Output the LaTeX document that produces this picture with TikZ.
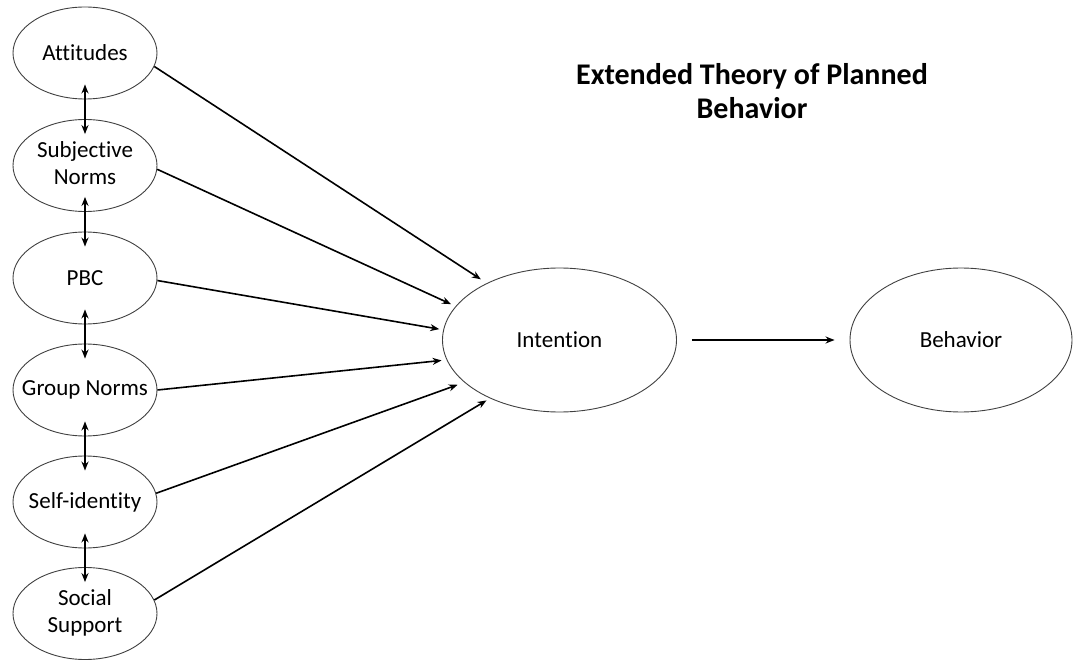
\documentclass[tikz,border=0pt]{standalone}
\usepackage{fontspec}
\setmainfont{Carlito}[Ligatures=NoCommon]
\usetikzlibrary{shapes.geometric,arrows.meta}
\begin{document}
\begin{tikzpicture}[x=1pt,y=-1pt,
  nodefont/.style={font=\fontsize{23}{27}\selectfont},
  lat/.style={ellipse,draw=black!75,line width=0.9pt,minimum width=144pt,minimum height=92pt,inner sep=0pt,nodefont},
  big/.style={ellipse,draw=black!75,line width=0.9pt,inner sep=0pt,minimum height=144pt,nodefont},
  arr/.style={line width=1.6pt,-{Stealth[length=9pt,width=7pt]}},
  darr/.style={line width=1.6pt,{Stealth[length=9pt,width=7pt]}-{Stealth[length=9pt,width=7pt]},shorten <=-15pt,shorten >=-15pt}]
\useasboundingbox (0,0) rectangle (1073,660);
\node[lat] (att) at (85,53) {\makebox[0pt]{Attitudes}};
\node[lat] (sn) at (85,165.5) {\makebox[0pt]{\begin{tabular}{@{}c@{}}Subjective\\Norms\end{tabular}}};
\node[lat] (pbc) at (85,278) {\makebox[0pt]{PBC}};
\node[lat] (gn) at (85,390) {\makebox[0pt]{Group Norms}};
\node[lat] (si) at (85,502) {\makebox[0pt]{Self-identity}};
\node[lat] (ss) at (85,613.5) {\makebox[0pt]{\begin{tabular}{@{}c@{}}Social\\Support\end{tabular}}};
\node[big,minimum width=234pt] (int) at (559.5,340) {Intention};
\node[big,minimum width=222pt] (beh) at (961,340) {Behavior};
\node[font=\fontsize{30}{34}\selectfont\bfseries,align=center] (title) at (752,91) {Extended Theory of Planned\\Behavior};
% vertical double arrows
\draw[darr] (att.south) -- (sn.north);
\draw[darr] (sn.south) -- (pbc.north);
\draw[darr] (pbc.south) -- (gn.north);
\draw[darr] (gn.south) -- (si.north);
\draw[darr] (si.south) -- (ss.north);
% to intention
\draw[arr,shorten >=7pt] (att.-11) -- (int.142.5);
\draw[arr,shorten >=5pt] (sn.-3) -- (int.162);
\draw[arr,shorten >=4pt] (pbc.-2) -- (int.175);
\draw[arr,shorten >=5pt] (gn.east) -- (int.190);
\draw[arr,shorten >=7pt] (si.7) -- (int.204);
\draw[arr,shorten >=4pt] (ss.11) -- (int.220);
\draw[arr,shorten <=15pt,shorten >=15pt] (int.east) -- (beh.west);
\end{tikzpicture}
\end{document}
